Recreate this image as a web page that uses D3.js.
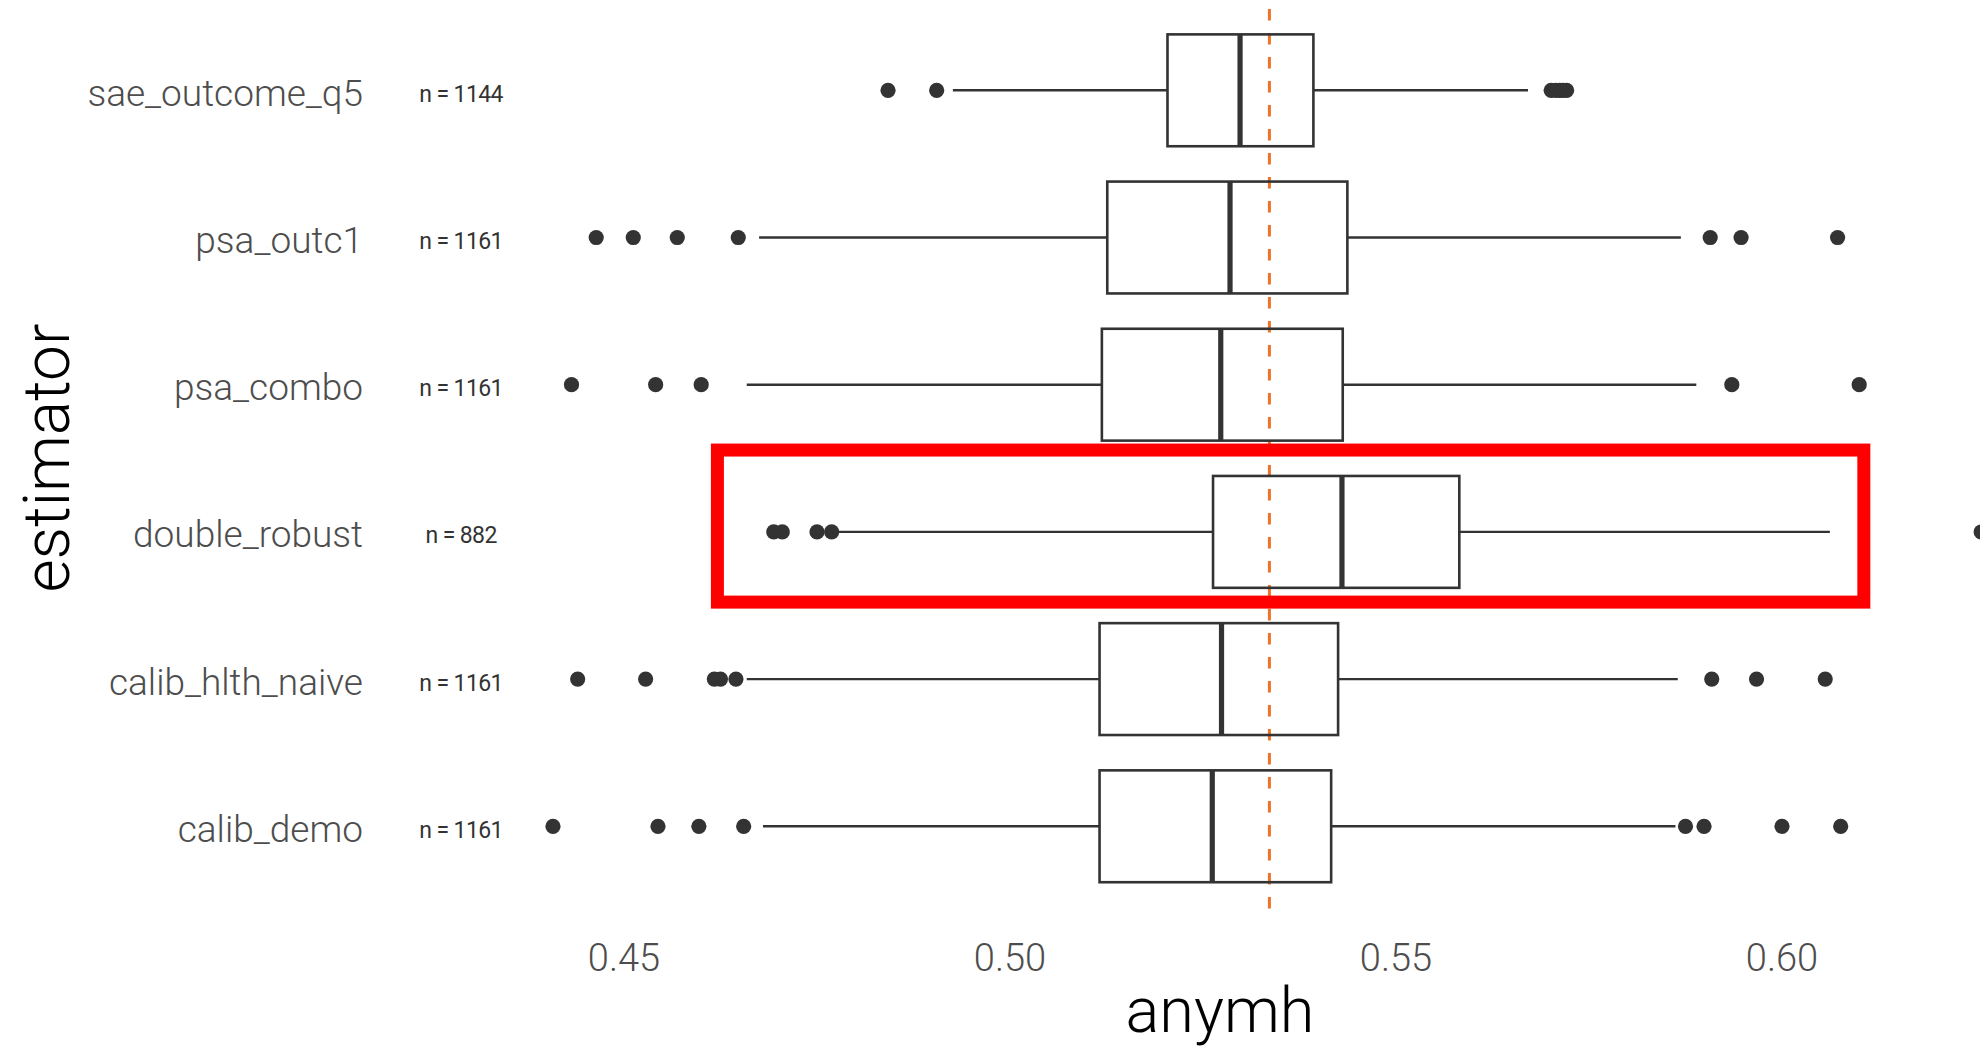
<!DOCTYPE html>
<html>
<head>
<meta charset="utf-8">
<script src="https://cdn.jsdelivr.net/npm/d3@7"></script>
<style>
  html, body { margin: 0; padding: 0; background: #ffffff; }
  svg { display: block; font-family: Roboto, "Open Sans", sans-serif; }
</style>
</head>
<body>
<svg id="chart" width="1980" height="1047"></svg>
<script>
// categories, top to bottom
var categories = ["sae_outcome_q5", "psa_outc1", "psa_combo", "double_robust", "calib_hlth_naive", "calib_demo"];
var counts = [1144, 1161, 1161, 882, 1161, 1161];

// box stats per estimator
var whiskerLow  = [0.4926, 0.4675, 0.4659, 0.4778, 0.4659, 0.4680];
var q1          = [0.5204, 0.5126, 0.5119, 0.5263, 0.5116, 0.5116];
var medians     = [0.5298, 0.5285, 0.5273, 0.5430, 0.5274, 0.5262];
var q3          = [0.5393, 0.5437, 0.5431, 0.5582, 0.5425, 0.5416];
var whiskerHigh = [0.5671, 0.5869, 0.5889, 0.6062, 0.5865, 0.5862];

var outliers = [
  [0.4842, 0.4905, 0.5701, 0.5707, 0.5712, 0.5716, 0.5721],
  [0.4464, 0.4512, 0.4569, 0.4648, 0.5907, 0.5947, 0.6072],
  [0.4432, 0.4541, 0.4600, 0.5935, 0.6100],
  [0.4694, 0.4705, 0.4750, 0.4769, 0.6258],
  [0.4440, 0.4528, 0.4617, 0.4625, 0.4645, 0.5909, 0.5967, 0.6056],
  [0.4408, 0.4544, 0.4597, 0.4655, 0.5875, 0.5899, 0.6000, 0.6076]
];

var refValue = 0.5336;
var xTicks = [0.45, 0.50, 0.55, 0.60];
var countLabelX = 0.4289;

// highlighted estimator (red frame)
var highlightCategory = "double_robust";
var highlightRange = [0.4621, 0.6106];

var svg = d3.select("#chart");
var ink = "#333333";

var x = d3.scaleLinear().domain([0.45, 0.60]).range([624, 1782]);
var y = d3.scalePoint().domain(categories).range([2, 914.6]).padding(0.6);
var step = y.step();
var boxH = step * 0.76;

// reference line
svg.append("line")
  .attr("x1", x(refValue)).attr("x2", x(refValue))
  .attr("y1", y.range()[0]).attr("y2", y.range()[1])
  .attr("stroke", "#ED7424")
  .attr("stroke-width", 3)
  .attr("stroke-dasharray", "11.5 12.5")
  .attr("stroke-dashoffset", 17);

var rows = categories.map(function (c, i) {
  return { cat: c, n: counts[i], lo: whiskerLow[i], q1: q1[i], med: medians[i], q3: q3[i], hi: whiskerHigh[i], out: outliers[i] };
});

var g = svg.selectAll(".box").data(rows).enter().append("g").attr("class", "box");

// whiskers
g.append("line")
  .attr("x1", function (d) { return x(d.lo); })
  .attr("x2", function (d) { return x(d.q1); })
  .attr("y1", function (d) { return y(d.cat); })
  .attr("y2", function (d) { return y(d.cat); })
  .attr("stroke", ink).attr("stroke-width", 2.4);
g.append("line")
  .attr("x1", function (d) { return x(d.q3); })
  .attr("x2", function (d) { return x(d.hi); })
  .attr("y1", function (d) { return y(d.cat); })
  .attr("y2", function (d) { return y(d.cat); })
  .attr("stroke", ink).attr("stroke-width", 2.4);

// boxes
g.append("rect")
  .attr("x", function (d) { return x(d.q1); })
  .attr("width", function (d) { return x(d.q3) - x(d.q1); })
  .attr("y", function (d) { return y(d.cat) - boxH / 2; })
  .attr("height", boxH)
  .attr("fill", "none")
  .attr("stroke", ink).attr("stroke-width", 2.6);

// medians
g.append("line")
  .attr("x1", function (d) { return x(d.med); })
  .attr("x2", function (d) { return x(d.med); })
  .attr("y1", function (d) { return y(d.cat) - boxH / 2; })
  .attr("y2", function (d) { return y(d.cat) + boxH / 2; })
  .attr("stroke", ink).attr("stroke-width", 5.2);

// outliers
g.selectAll("circle")
  .data(function (d) { return d.out.map(function (v) { return { cat: d.cat, v: v }; }); })
  .enter().append("circle")
  .attr("cx", function (d) { return x(d.v); })
  .attr("cy", function (d) { return y(d.cat); })
  .attr("r", 7.6)
  .attr("fill", ink);

// n labels
svg.selectAll(".nlab").data(rows).enter().append("text")
  .attr("class", "nlab")
  .attr("x", x(countLabelX))
  .attr("y", function (d) { return y(d.cat); })
  .attr("dy", "0.5em")
  .attr("text-anchor", "middle")
  .attr("font-size", 23)
  .attr("letter-spacing", -0.6)
  .attr("fill", ink)
  .text(function (d) { return "n = " + d.n; });

// highlight frame
svg.append("rect")
  .attr("x", x(highlightRange[0]))
  .attr("width", x(highlightRange[1]) - x(highlightRange[0]))
  .attr("y", y(highlightCategory) - step * 0.556)
  .attr("height", step * (0.556 + 0.477))
  .attr("fill", "none")
  .attr("stroke", "#FF0000")
  .attr("stroke-width", 13);

// y axis labels
svg.selectAll(".ylab").data(categories).enter().append("text")
  .attr("class", "ylab")
  .attr("x", 363)
  .attr("y", function (d) { return y(d); })
  .attr("dy", "0.42em")
  .attr("text-anchor", "end")
  .attr("font-size", 37)
  .attr("font-weight", 300)
  .attr("fill", "#4D4D4D")
  .text(function (d) { return d; });

// x tick labels
svg.selectAll(".xtick").data(xTicks).enter().append("text")
  .attr("class", "xtick")
  .attr("x", function (d) { return x(d); })
  .attr("y", 971)
  .attr("text-anchor", "middle")
  .attr("font-size", 38)
  .attr("font-weight", 300)
  .attr("fill", "#4D4D4D")
  .text(function (d) { return d3.format(".2f")(d); });

// axis titles
svg.append("text")
  .attr("x", 1220).attr("y", 1032)
  .attr("text-anchor", "middle")
  .attr("font-size", 63)
  .attr("font-weight", 300)
  .attr("fill", "#000000")
  .text("anymh");

svg.append("text")
  .attr("transform", "translate(69,458) rotate(-90)")
  .attr("text-anchor", "middle")
  .attr("font-size", 64)
  .attr("font-weight", 300)
  .attr("fill", "#000000")
  .text("estimator");
</script>
</body>
</html>
